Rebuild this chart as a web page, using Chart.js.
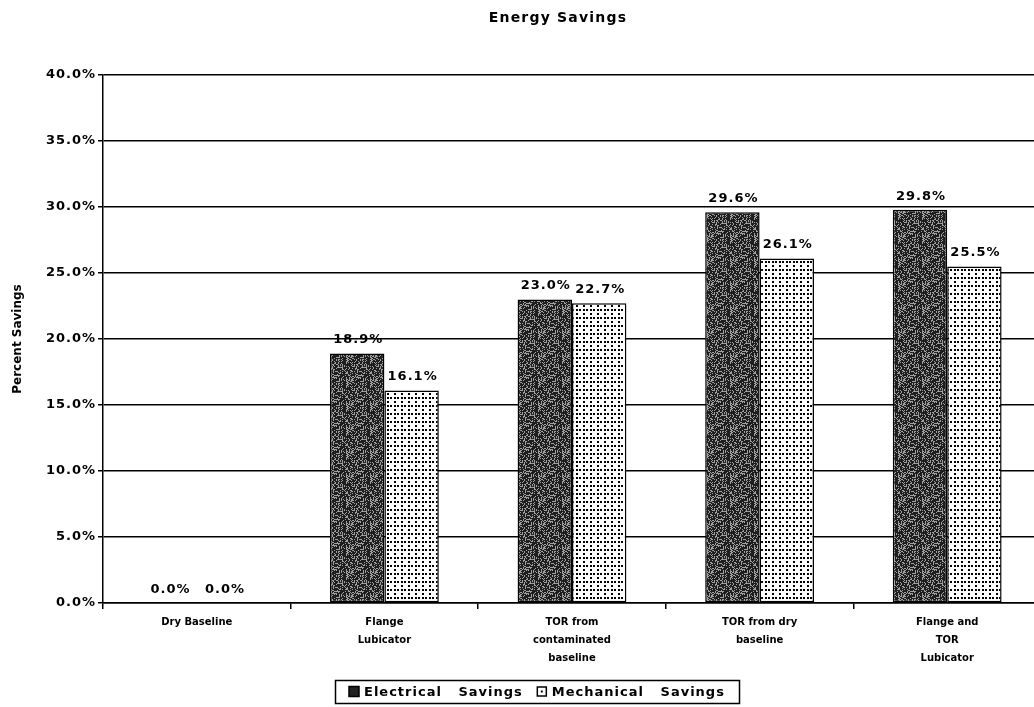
<!DOCTYPE html>
<html>
<head>
<meta charset="utf-8">
<title>Energy Savings</title>
<script src="https://cdn.jsdelivr.net/npm/chart.js@4.4.1/dist/chart.umd.min.js"></script>
<style>
  html, body { margin: 0; padding: 0; background: #fff; overflow: hidden; }
  #wrap { width: 1041px; height: 707px; }
</style>
</head>
<body>
<div id="wrap"><canvas id="chart" width="1041" height="707"></canvas></div>
<script>
// ---- data ----
const categories = [
  'Dry Baseline',
  ['Flange', 'Lubicator'],
  ['TOR from', 'contaminated', 'baseline'],
  ['TOR from dry', 'baseline'],
  ['Flange and', 'TOR', 'Lubicator']
];
const electricalSavings = [0.0, 18.9, 23.0, 29.6, 29.8];
const mechanicalSavings = [0.0, 16.1, 22.7, 26.1, 25.5];
const seriesLabels = ['Electrical   Savings', 'Mechanical   Savings'];
const chartTitle = 'Energy Savings';
const yAxisTitle = 'Percent Savings';
const yMin = 0, yMax = 40, yStep = 5;

// ---- fill textures ----
function hash(i, j) {
  let h = (i * 374761393 + j * 668265263) >>> 0;
  h = ((h ^ (h >>> 13)) * 1274126177) >>> 0;
  return (h ^ (h >>> 16)) >>> 0;
}
function stipplePattern(ctx) {
  const c = document.createElement('canvas');
  c.width = 24; c.height = 24;
  const g = c.getContext('2d');
  g.fillStyle = '#1e1e1e';
  g.fillRect(0, 0, 24, 24);
  g.fillStyle = '#a0a0a0';
  for (let i = 0; i < 24; i++) {
    for (let j = 0; j < 24; j++) {
      if (hash(i, j) % 100 < 32) g.fillRect(i, j, 1, 1);
    }
  }
  return ctx.createPattern(c, 'repeat');
}
function dotPattern(ctx) {
  // alternating sparse and dense rows of dots
  const c = document.createElement('canvas');
  c.width = 7; c.height = 8;
  const g = c.getContext('2d');
  g.fillStyle = '#ffffff';
  g.fillRect(0, 0, 7, 8);
  g.fillStyle = '#000000';
  [[2, 1], [2, 5], [5, 5]].forEach(([x, y]) => g.fillRect(x, y, 2, 2));
  return ctx.createPattern(c, 'repeat');
}

const canvas = document.getElementById('chart');
const ctx = canvas.getContext('2d');
const darkFill = stipplePattern(ctx);
const dottedFill = dotPattern(ctx);

const FONT = 'DejaVu Sans';

// spaced-out lettering for the value axis labels
const spacedAxisLabels = {
  id: 'spacedAxisLabels',
  beforeDraw(chart) {
    const y = chart.scales.y;
    if (y && !y._spacedLabels) {
      const orig = y.drawLabels.bind(y);
      y.drawLabels = function (area) {
        const c = chart.ctx;
        c.save();
        c.letterSpacing = '1px';
        orig(area);
        c.restore();
      };
      y._spacedLabels = true;
    }
  }
};

// value labels above bars
const valueLabels = {
  id: 'valueLabels',
  afterDatasetsDraw(chart) {
    const c = chart.ctx;
    c.save();
    c.font = 'bold 13px "' + FONT + '"';
    c.letterSpacing = '1px';
    c.fillStyle = '#000';
    c.textAlign = 'center';
    c.textBaseline = 'bottom';
    chart.data.datasets.forEach((ds, di) => {
      chart.getDatasetMeta(di).data.forEach((bar, i) => {
        c.fillText(ds.data[i].toFixed(1) + '%', bar.x + 1, bar.y - 7);
      });
    });
    c.restore();
  }
};

// heading
const heading = {
  id: 'heading',
  afterDraw(chart) {
    const c = chart.ctx;
    c.save();
    c.font = 'bold 14px "' + FONT + '"';
    c.letterSpacing = '1.2px';
    c.fillStyle = '#000';
    c.textAlign = 'center';
    c.textBaseline = 'middle';
    c.fillText(chartTitle, 558, 18);
    c.restore();
  }
};

// boxed legend under the axis
const boxedLegend = {
  id: 'boxedLegend',
  afterDraw(chart) {
    const c = chart.ctx;
    c.save();
    c.font = 'bold 13px "' + FONT + '"';
    c.letterSpacing = '1px';
    c.textBaseline = 'middle';
    c.textAlign = 'left';
    const marker = 10, gapM = 5, gapItems = 14, padX = 14;
    const w1 = c.measureText(seriesLabels[0]).width;
    const w2 = c.measureText(seriesLabels[1]).width;
    const total = padX + marker + gapM + w1 + gapItems + marker + gapM + w2 + padX;
    const cx = 537, top = 680, h = 23, cy = top + h / 2;
    let x = Math.round(cx - total / 2);
    c.strokeStyle = '#000';
    c.lineWidth = 1.5;
    c.strokeRect(x + 0.5, top + 0.5, Math.round(total), h);
    x += padX;
    // electrical marker
    c.fillStyle = '#222';
    c.fillRect(x, cy - marker / 2, marker, marker);
    c.strokeRect(x, cy - marker / 2, marker, marker);
    x += marker + gapM;
    c.fillStyle = '#000';
    c.fillText(seriesLabels[0], x, cy + 1);
    x += w1 + gapItems;
    // mechanical marker
    c.fillStyle = '#fff';
    c.fillRect(x, cy - marker / 2, marker, marker);
    c.strokeRect(x + 0.5, cy - marker / 2 + 0.5, marker - 1, marker - 1);
    c.fillStyle = '#000';
    c.fillRect(x + 4, cy - 1, 2, 2);
    x += marker + gapM;
    c.fillText(seriesLabels[1], x, cy + 1);
    c.restore();
  }
};

new Chart(ctx, {
  type: 'bar',
  data: {
    labels: categories,
    datasets: [
      {
        label: seriesLabels[0],
        data: electricalSavings,
        backgroundColor: darkFill,
        borderColor: '#000',
        borderWidth: 1.5,
        borderSkipped: false,
        categoryPercentage: 0.58,
        barPercentage: 1.0
      },
      {
        label: seriesLabels[1],
        data: mechanicalSavings,
        backgroundColor: dottedFill,
        borderColor: '#000',
        borderWidth: 1.5,
        borderSkipped: false,
        categoryPercentage: 0.58,
        barPercentage: 1.0
      }
    ]
  },
  options: {
    responsive: false,
    animation: false,
    devicePixelRatio: 1,
    layout: { padding: { top: 75, left: 0, right: 0, bottom: 0 } },
    plugins: {
      legend: { display: false },
      title: { display: false },
      tooltip: { enabled: false }
    },
    scales: {
      x: {
        offset: true,
        grid: {
          display: true,
          drawOnChartArea: false,
          drawTicks: true,
          tickLength: 6,
          color: '#000',
          lineWidth: 1.5
        },
        border: { display: true, color: '#000', width: 1.5 },
        ticks: {
          color: '#000',
          font: { family: FONT, size: 10, weight: 'bold', lineHeight: 1.8 },
          padding: 4,
          maxRotation: 0,
          autoSkip: false
        },
        afterFit(scale) { scale.height = 104; }
      },
      y: {
        min: yMin,
        max: yMax,
        grid: {
          color: '#000',
          lineWidth: 1.5,
          drawTicks: true,
          tickLength: 5
        },
        border: { display: true, color: '#000', width: 1.5 },
        ticks: {
          stepSize: yStep,
          color: '#000',
          padding: 2,
          font: { family: FONT, size: 13, weight: 'bold' },
          callback: (v) => Number(v).toFixed(1) + '%'
        },
        title: {
          display: true,
          text: yAxisTitle,
          color: '#000',
          font: { family: FONT, size: 12, weight: 'bold' },
          padding: { top: 11, bottom: 0 }
        },
        afterFit(scale) { scale.width = 103; }
      }
    }
  },
  plugins: [spacedAxisLabels, valueLabels, heading, boxedLegend]
});
</script>
</body>
</html>
